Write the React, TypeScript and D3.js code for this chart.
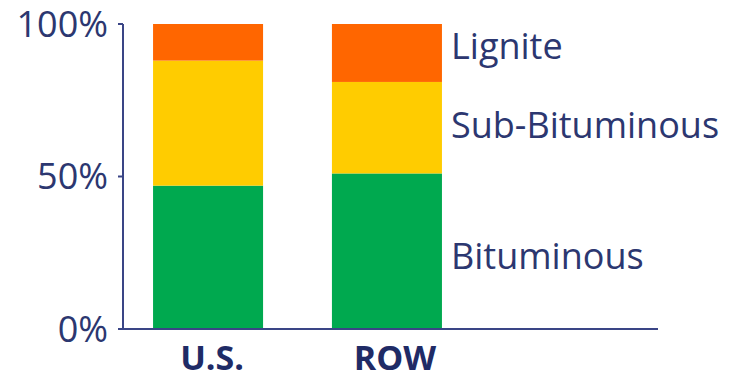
import React from "react";
import * as d3 from "d3";

// Coal rank mix, share of reserves (%)
const regions = ["U.S.", "ROW"];
const coalTypes = ["Bituminous", "Sub-Bituminous", "Lignite"];
const bituminous = [47, 51];
const subBituminous = [41, 30];
const lignite = [12, 19];
const yTicks = [0, 50, 100];
const typeColors = ["#00a94f", "#ffcc00", "#ff6600"];

const W = 736;
const H = 380;
const FONT = "'Open Sans', sans-serif";
const INK = "#2c3770";
const AXIS = "#3a4586";

type Row = { region: string; [k: string]: number | string };

export default function App() {
  const rows: Row[] = regions.map((r, i) => ({
    region: r,
    Bituminous: bituminous[i],
    "Sub-Bituminous": subBituminous[i],
    Lignite: lignite[i],
  }));

  const stack = d3.stack<Row>().keys(coalTypes).value((d, k) => d[k] as number);
  const series = stack(rows);

  const y = d3.scaleLinear().domain([0, 100]).range([329, 24]);
  const x = d3
    .scaleBand<string>()
    .domain(regions)
    .range([123, 472])
    .paddingInner(0.385)
    .paddingOuter(0.168);

  const axisX0 = 123;
  const axisX1 = 658;
  const labelX = 451;
  // vertical nudges for the right-hand type labels, beside the ROW column
  const labelNudge = [5, -3, -7];
  const last = regions.length - 1;

  return (
    <div style={{ position: "fixed", left: 0, top: 0 }}>
      <svg width={W} height={H} style={{ display: "block", background: "#fff" }}>
        {series.map((s, si) =>
          s.map((d, i) => (
            <rect
              key={`${si}-${i}`}
              x={x(regions[i])}
              width={x.bandwidth()}
              y={y(d[1])}
              height={y(d[0]) - y(d[1])}
              fill={typeColors[si]}
            />
          ))
        )}

        {/* y axis */}
        <line x1={axisX0} x2={axisX0} y1={y(100)} y2={y(0)} stroke={AXIS} strokeWidth={2} />
        {yTicks.map((t) => (
          <g key={t} transform={`translate(0,${y(t)})`}>
            <line x1={axisX0 - 5} x2={axisX0} stroke={AXIS} strokeWidth={2} />
            <text
              x={108}
              dy="0.36em"
              textAnchor="end"
              fontFamily={FONT}
              fontSize={36}
              fill={INK}
            >
              {t}%
            </text>
          </g>
        ))}

        {/* x axis */}
        <line x1={axisX0} x2={axisX1} y1={y(0)} y2={y(0)} stroke={AXIS} strokeWidth={2} />
        {regions.map((r, i) => (
          <text
            key={r}
            x={(x(r) as number) + x.bandwidth() / 2 + 4 + i * 4}
            y={370}
            textAnchor="middle"
            fontFamily={FONT}
            fontWeight={700}
            fontSize={34}
            fill="#1f2b66"
          >
            {r}
          </text>
        ))}

        {/* type labels */}
        {series.map((s, si) => {
          const d = s[last];
          const mid = y((d[0] + d[1]) / 2);
          return (
            <text
              key={coalTypes[si]}
              x={labelX}
              y={mid + labelNudge[si]}
              dy="0.36em"
              fontFamily={FONT}
              fontSize={36}
              fill={INK}
            >
              {coalTypes[si]}
            </text>
          );
        })}
      </svg>
    </div>
  );
}
